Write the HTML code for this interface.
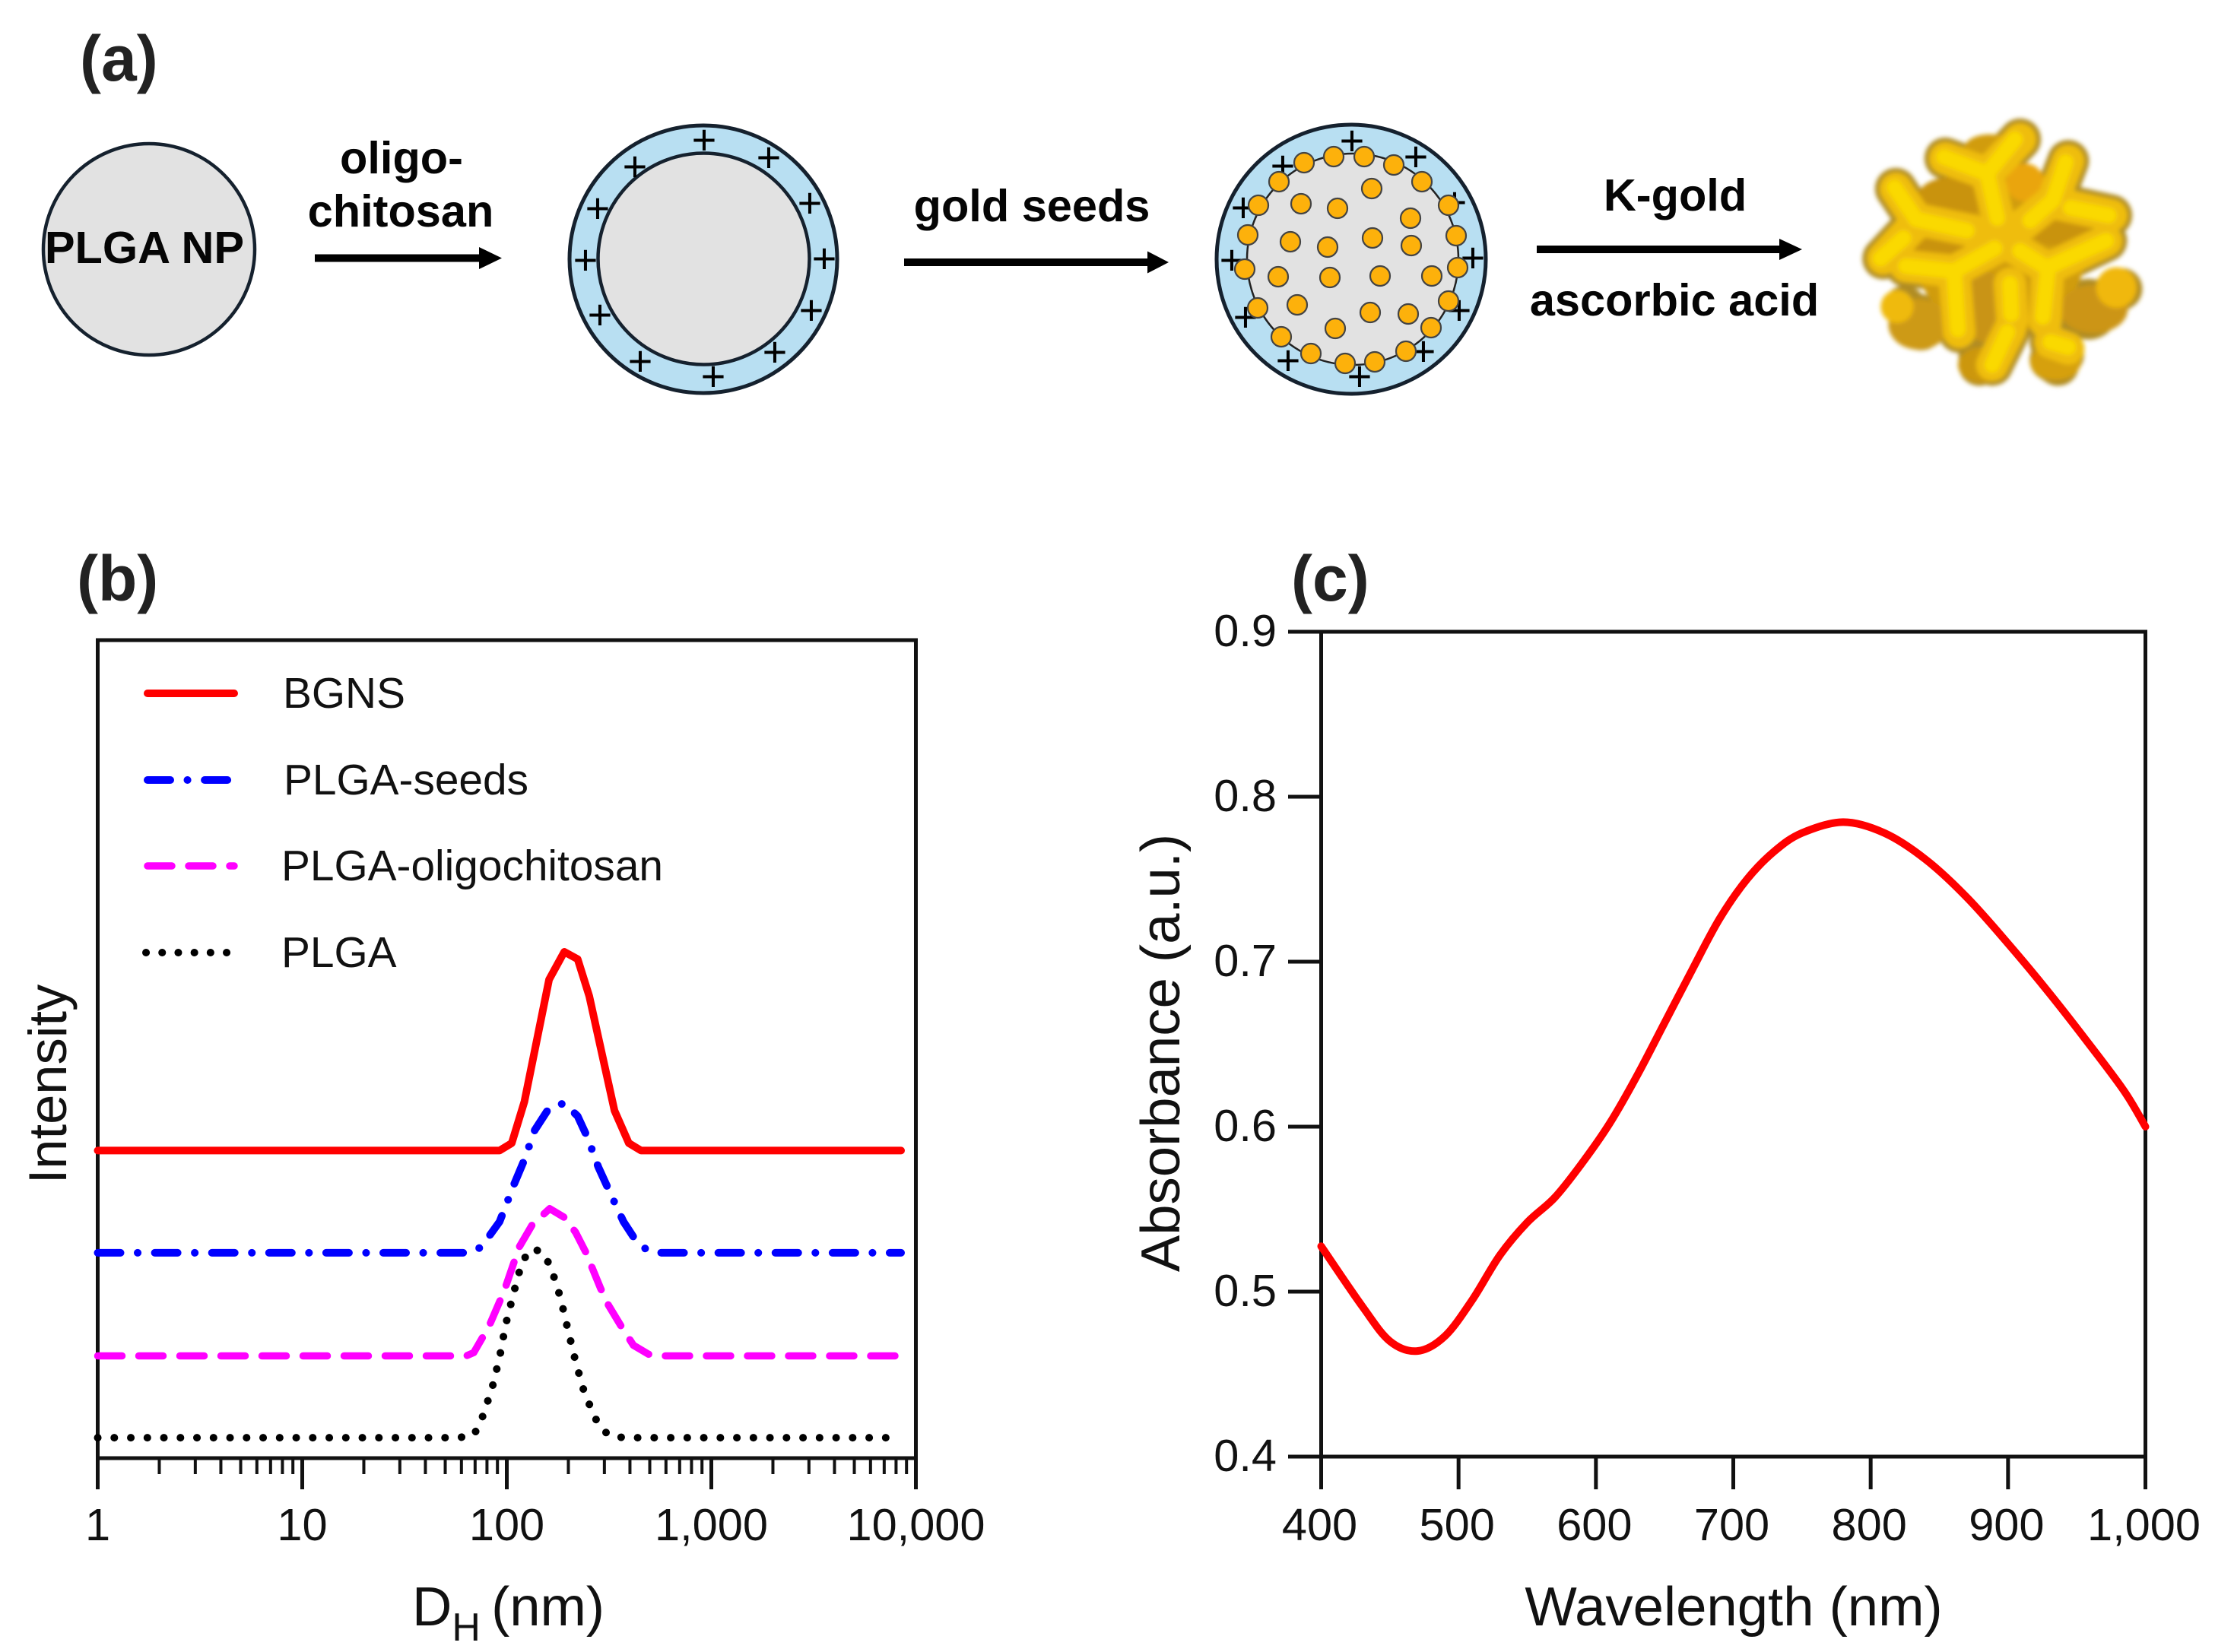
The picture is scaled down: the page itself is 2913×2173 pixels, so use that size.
<!DOCTYPE html>
<html lang="en">
<head>
<meta charset="utf-8">
<title>PLGA gold nanostar synthesis and characterisation</title>
<style>
html,body{margin:0;padding:0;background:#fff;width:2913px;height:2173px;overflow:hidden}
svg{display:block}
text{font-family:"Liberation Sans",Arial,sans-serif;fill:#111}
.tick{font-size:59.5px}
.title{font-size:72.5px}
.leg{font-size:56.8px}
.step{font-size:59.5px;font-weight:bold;fill:#050505}
.panel{font-size:84px;font-weight:bold;fill:#222}
.plus{font-size:56px;fill:#000;text-anchor:middle}
.seed{fill:#fdb10b;stroke:#444;stroke-width:2.2}
</style>
</head>
<body>
<svg id="fig" xmlns="http://www.w3.org/2000/svg" width="2913" height="2173" viewBox="0 0 2913 2173">
<defs>
<filter id="soft" x="-10%" y="-10%" width="120%" height="120%"><feGaussianBlur stdDeviation="9"/></filter>
</defs>
<rect width="2913" height="2173" fill="#fff"/>

<!-- PANEL A -->
<g>
<text class="panel" x="105" y="106">(a)</text>

<g>
<circle cx="196" cy="328" r="139" fill="#e2e2e2" stroke="#15212e" stroke-width="4.5"/>
<text class="step" x="190" y="346" text-anchor="middle">PLGA NP</text>
</g>

<text class="step" x="528" y="228" text-anchor="middle">oligo-</text>
<text class="step" x="527" y="298" text-anchor="middle">chitosan</text>
<path d="M414 334.500H630V325L660 339.500L630 354V344.500H414Z" fill="#000"/>

<g>
<circle cx="925" cy="341" r="176" fill="#b8dff2" stroke="#15212e" stroke-width="5"/>
<circle cx="925.500" cy="340.500" r="139" fill="#e2e2e2" stroke="#15212e" stroke-width="4.5"/>
<g>
<text class="plus" x="926" y="203">+</text>
<text class="plus" x="1011" y="226">+</text>
<text class="plus" x="1065" y="286">+</text>
<text class="plus" x="1084" y="359">+</text>
<text class="plus" x="1067" y="427">+</text>
<text class="plus" x="1019" y="482">+</text>
<text class="plus" x="938" y="514">+</text>
<text class="plus" x="842" y="494">+</text>
<text class="plus" x="789" y="433">+</text>
<text class="plus" x="770" y="361">+</text>
<text class="plus" x="786" y="293">+</text>
<text class="plus" x="835" y="238">+</text>
</g>
</g>

<text class="step" x="1357" y="291" text-anchor="middle">gold seeds</text>
<path d="M1189 340H1509V330.500L1537 345L1509 359.500V350H1189Z" fill="#000"/>

<g>
<circle cx="1777" cy="341" r="177" fill="#b8dff2" stroke="#15212e" stroke-width="5"/>
<circle cx="1779" cy="341" r="139" fill="#e2e2e2" stroke="#222" stroke-width="2.500"/>
<g>
<text class="plus" x="1778" y="204">+</text>
<text class="plus" x="1862" y="225">+</text>
<text class="plus" x="1913" y="285">+</text>
<text class="plus" x="1937" y="358">+</text>
<text class="plus" x="1919" y="427">+</text>
<text class="plus" x="1872" y="481">+</text>
<text class="plus" x="1788" y="514">+</text>
<text class="plus" x="1694" y="493">+</text>
<text class="plus" x="1638" y="436">+</text>
<text class="plus" x="1620" y="361">+</text>
<text class="plus" x="1635" y="292">+</text>
<text class="plus" x="1687" y="237">+</text>
</g>
<g>
<circle class="seed" cx="1754" cy="206" r="13"/>
<circle class="seed" cx="1794" cy="206" r="13"/>
<circle class="seed" cx="1833" cy="217" r="13"/>
<circle class="seed" cx="1870" cy="239" r="13"/>
<circle class="seed" cx="1905" cy="270" r="13"/>
<circle class="seed" cx="1915" cy="310" r="13"/>
<circle class="seed" cx="1917" cy="352" r="13"/>
<circle class="seed" cx="1905" cy="396" r="13"/>
<circle class="seed" cx="1882" cy="431" r="13"/>
<circle class="seed" cx="1849" cy="462" r="13"/>
<circle class="seed" cx="1808" cy="476" r="13"/>
<circle class="seed" cx="1769" cy="478" r="13"/>
<circle class="seed" cx="1724" cy="465" r="13"/>
<circle class="seed" cx="1685" cy="443" r="13"/>
<circle class="seed" cx="1654" cy="405" r="13"/>
<circle class="seed" cx="1637" cy="354" r="13"/>
<circle class="seed" cx="1641" cy="309" r="13"/>
<circle class="seed" cx="1655" cy="270" r="13"/>
<circle class="seed" cx="1682" cy="239" r="13"/>
<circle class="seed" cx="1715" cy="214" r="13"/>
<circle class="seed" cx="1804" cy="248" r="13"/>
<circle class="seed" cx="1711" cy="268" r="13"/>
<circle class="seed" cx="1759" cy="274" r="13"/>
<circle class="seed" cx="1855" cy="287" r="13"/>
<circle class="seed" cx="1697" cy="318" r="13"/>
<circle class="seed" cx="1746" cy="325" r="13"/>
<circle class="seed" cx="1805" cy="313" r="13"/>
<circle class="seed" cx="1856" cy="323" r="13"/>
<circle class="seed" cx="1681" cy="364" r="13"/>
<circle class="seed" cx="1749" cy="365" r="13"/>
<circle class="seed" cx="1815" cy="363" r="13"/>
<circle class="seed" cx="1883" cy="363" r="13"/>
<circle class="seed" cx="1706" cy="401" r="13"/>
<circle class="seed" cx="1802" cy="411" r="13"/>
<circle class="seed" cx="1852" cy="413" r="13"/>
<circle class="seed" cx="1756" cy="432" r="13"/>
</g>
</g>

<text class="step" x="2203" y="277" text-anchor="middle">K-gold</text>
<path d="M2021 323H2340V314L2370 328L2340 342V333H2021Z" fill="#000"/>
<text class="step" x="2202" y="415" text-anchor="middle">ascorbic acid</text>

<g transform="translate(2430 140) scale(0.3333)">
<g filter="url(#soft)" fill="none" stroke-linecap="round" stroke-linejoin="round">
<g stroke="#b08c22" stroke-width="165">
<path d="M680 130L550 265L600 470"/><path d="M385 205L550 265"/>
<path d="M870 215L810 370L700 460"/><path d="M1040 430L810 380"/>
<path d="M190 325L270 445L490 490"/><path d="M140 600L270 460"/>
<path d="M600 550L420 650L440 890"/><path d="M230 630L420 650"/>
<path d="M660 560L790 640L780 850"/><path d="M1020 530L790 640"/>
<path d="M640 880L570 1020"/><path d="M800 930L850 980"/>
<path d="M225 790L290 880"/><path d="M520 780L520 1020"/><path d="M950 800L1080 720"/><path d="M800 1000L830 1020"/>
<circle cx="600" cy="560" r="320" fill="#b08c22" stroke="none"/>
<circle cx="950" cy="800" r="120" fill="#b08c22" stroke="none"/>
<circle cx="280" cy="850" r="110" fill="#b08c22" stroke="none"/>
</g>
<g stroke="none">
<circle cx="600" cy="560" r="340" fill="#d09c10"/>
<ellipse cx="400" cy="370" rx="130" ry="90" fill="#c9930e"/>
<ellipse cx="560" cy="165" rx="100" ry="55" fill="#d19c10"/>
<circle cx="700" cy="300" r="75" fill="#eaa50c"/>
<ellipse cx="280" cy="860" rx="120" ry="100" fill="#cd9a14"/>
<circle cx="195" cy="790" r="65" fill="#efba0c"/>
<ellipse cx="540" cy="790" rx="95" ry="140" fill="#c99412"/>
<ellipse cx="970" cy="800" rx="135" ry="95" fill="#cc9512"/>
<circle cx="1060" cy="715" r="80" fill="#f0b80c"/>
<ellipse cx="530" cy="1020" rx="95" ry="70" fill="#cc9710"/>
<ellipse cx="820" cy="1010" rx="100" ry="70" fill="#d6a010"/>
<ellipse cx="840" cy="490" rx="120" ry="60" fill="#c9930e"/>
<ellipse cx="370" cy="560" rx="120" ry="45" fill="#c9930e"/>
</g>
<g stroke="#efbd0e" stroke-width="128">
<path d="M680 130L550 265L600 470"/><path d="M385 205L550 265"/>
<path d="M870 215L810 370L700 460"/><path d="M1040 430L810 380"/>
<path d="M190 325L270 445L490 490"/><path d="M140 600L270 460"/>
<path d="M600 550L420 650L440 890"/><path d="M230 630L420 650"/>
<path d="M660 560L790 640L780 850"/><path d="M1020 530L790 640"/>
<path d="M640 700L650 840"/><path d="M640 880L570 1020"/><path d="M800 930L870 955"/>
</g>
<g stroke="#fad906" stroke-width="62">
<path d="M660 130L550 265L590 440"/><path d="M380 200L550 265"/>
<path d="M860 220L810 370L720 450"/><path d="M1030 430L880 400"/>
<path d="M185 320L270 445L470 490"/><path d="M130 600L220 520"/>
<path d="M580 560L420 650L435 880"/><path d="M230 630L420 650"/>
<path d="M680 570L790 640L770 830"/><path d="M1020 530L800 630"/>
<path d="M640 700L645 820"/><path d="M630 890L570 1020"/><path d="M800 930L870 950"/>
</g>
</g>
</g>
</g>

<!-- PANEL B -->
<g id="panel-b">
<text class="panel" x="101" y="790">(b)</text>
<rect x="128.500" y="842" width="1076" height="1076" fill="none" stroke="#111" stroke-width="5"/>
<g id="ticks-b" stroke="#111"></g>
<g id="lines-b" fill="none" stroke-linejoin="round"></g>
<g>
<g>
<line x1="194" y1="912" x2="308" y2="912" stroke="#ff0000" stroke-width="10" stroke-linecap="round"/>
<text class="leg" x="372" y="931">BGNS</text>
</g>
<g>
<line x1="194" y1="1026" x2="308" y2="1026" stroke="#0000ff" stroke-width="10" stroke-linecap="round" stroke-dasharray="30 22.500 0.1 22.500"/>
<text class="leg" x="373" y="1045">PLGA-seeds</text>
</g>
<g>
<line x1="194" y1="1139" x2="308" y2="1139" stroke="#ff00ff" stroke-width="9.500" stroke-linecap="round" stroke-dasharray="32 22"/>
<text class="leg" x="370" y="1158">PLGA-oligochitosan</text>
</g>
<g>
<line x1="192" y1="1253" x2="299" y2="1253" stroke="#000" stroke-width="10" stroke-linecap="round" stroke-dasharray="0.1 21.100"/>
<text class="leg" x="370" y="1272">PLGA</text>
</g>
</g>
<text class="title" style="font-size:70.500px" transform="translate(87 1426) rotate(-90)" text-anchor="middle">Intensity</text>
<text class="title" x="542" y="2138">D<tspan font-size="52" dy="20">H</tspan><tspan dy="-20" dx="-6"> (nm)</tspan></text>
</g>

<!-- PANEL C -->
<g id="panel-c">
<text class="panel" x="1698" y="790">(c)</text>
<rect x="1737.500" y="831" width="1084" height="1085" fill="none" stroke="#111" stroke-width="5"/>
<g id="ticks-c" stroke="#111"></g>
<g id="lines-c" fill="none"></g>
<text class="title" transform="translate(1551 1385) rotate(-90)" text-anchor="middle">Absorbance (a.u.)</text>
<text class="title" x="2280" y="2138" text-anchor="middle">Wavelength (nm)</text>
</g>
</svg>

<script>
// Panel (b) data: hydrodynamic diameter (nm) and relative intensity (0-100 scale)
const bgnsD = [1, 92.2, 105.7, 122, 161, 191, 222, 253, 336, 395, 453, 8465];
const bgnsI = [37.6, 37.6, 38.5, 43.6, 58.5, 61.9, 61, 56.5, 42.5, 38.5, 37.6, 37.6];
const seedsD = [1, 65.5, 75, 92.2, 109, 122, 137, 161, 191, 222, 249, 280, 319, 372, 430, 493, 571, 8465];
const seedsI = [25.1, 25.1, 25.8, 28.9, 33.6, 36.5, 40.1, 42.8, 43.4, 41.8, 39.1, 35.6, 32.5, 28.9, 26.5, 25.3, 25.1, 25.1];
const chitoD = [1, 63.3, 68.9, 81.8, 97, 115, 133, 162, 192, 217, 243, 288, 314, 363, 416, 493, 556, 8035];
const chitoI = [12.5, 12.5, 12.9, 16.1, 20.4, 25.8, 28.5, 30.5, 29.4, 27.6, 25.2, 20.7, 18.7, 16.1, 13.8, 12.7, 12.5, 12.5];
const plgaD = [1, 58, 68.9, 75, 84.6, 92.2, 98.7, 108, 119, 133, 149, 164, 183, 199, 217, 240, 278, 314, 372, 8000];
const plgaI = [2.5, 2.5, 2.8, 4.6, 8.5, 12.3, 16.3, 20.2, 24.1, 25.6, 25.2, 23.4, 19.6, 15.7, 11.8, 7.9, 4.3, 2.8, 2.5, 2.5];
const sizeMajorTicks = [1, 10, 100, 1000, 10000];
const sizeMajorLabels = ["1", "10", "100", "1,000", "10,000"];
const sizeMinorMultiples = [2, 3, 4, 5, 6, 7, 8, 9];

// Panel (c) data: wavelength (nm) and absorbance (a.u.)
const wavelength = [400, 430, 450, 470, 490, 510, 530, 550, 570, 590, 610, 630, 650, 670, 690, 710, 730, 750, 780, 810, 840, 870, 900, 930, 960, 985, 1000];
const absorbance = [0.5275, 0.491, 0.47, 0.464, 0.473, 0.495, 0.522, 0.542, 0.557, 0.578, 0.602, 0.631, 0.663, 0.695, 0.726, 0.75, 0.767, 0.778, 0.7846, 0.778, 0.762, 0.739, 0.711, 0.681, 0.649, 0.621, 0.6];
const wavelengthTicks = [400, 500, 600, 700, 800, 900, 1000];
const wavelengthLabels = ["400", "500", "600", "700", "800", "900", "1,000"];
const absorbanceTicks = [0.4, 0.5, 0.6, 0.7, 0.8, 0.9];
const absorbanceLabels = ["0.4", "0.5", "0.6", "0.7", "0.8", "0.9"];

const SVGNS = "http://www.w3.org/2000/svg";
function make(tag, parent) {
  const node = document.createElementNS(SVGNS, tag);
  parent.appendChild(node);
  return node;
}

// Axis functions
function xB(d) { return 128.5 + 269 * Math.log10(d); }
function yB(v) { return 1918 - 10.76 * v; }
function xC(w) { return 1737.5 + (w - 400) * 1084 / 600; }
function yC(a) { return 1916 - (a - 0.4) * 1085 / 0.5; }

function tickLine(parent, x1, y1, x2, y2, width) {
  const el = make("line", parent);
  el.setAttribute("x1", x1);
  el.setAttribute("y1", y1);
  el.setAttribute("x2", x2);
  el.setAttribute("y2", y2);
  el.setAttribute("stroke-width", width);
  return el;
}
function tickLabel(parent, x, y, anchor, str) {
  const el = make("text", parent);
  el.setAttribute("class", "tick");
  el.setAttribute("x", x);
  el.setAttribute("y", y);
  el.setAttribute("text-anchor", anchor);
  el.setAttribute("stroke", "none");
  el.textContent = str;
  return el;
}

// Panel (b) ticks
const ticksB = document.getElementById("ticks-b");
sizeMajorTicks.forEach(function (t, i) {
  const major = tickLine(ticksB, xB(t), 1918, xB(t), 1959, 5);
  
  
  const label = tickLabel(ticksB, xB(t), 2026, "middle", sizeMajorLabels[i]);
  
  
  if (i < sizeMajorTicks.length - 1) {
    sizeMinorMultiples.forEach(function (m) {
      const minor = tickLine(ticksB, xB(t * m), 1918, xB(t * m), 1939, 4);
      
      
    });
  }
});

// Panel (b) series
const linesB = document.getElementById("lines-b");
function drawSizeSeries(xs, ys, color, width, dash) {
  const el = make("polyline", linesB);
  el.setAttribute("points", xs.map(function (d, i) { return xB(d).toFixed(1) + "," + yB(ys[i]).toFixed(1); }).join(" "));
  el.setAttribute("stroke", color);
  el.setAttribute("stroke-width", width);
  el.setAttribute("stroke-linecap", "round");
  if (dash) { el.setAttribute("stroke-dasharray", dash); }
  return el;
}
const plgaLine = drawSizeSeries(plgaD, plgaI, "#000000", 10, "0.1 21.65");


const chitoLine = drawSizeSeries(chitoD, chitoI, "#ff00ff", 9.5, "32 22");


const seedsLine = drawSizeSeries(seedsD, seedsI, "#0000ff", 10, "30 22.5 0.1 22.5");


const bgnsLine = drawSizeSeries(bgnsD, bgnsI, "#ff0000", 10, null);



// Panel (c) ticks
const ticksC = document.getElementById("ticks-c");
wavelengthTicks.forEach(function (t, i) {
  const tick = tickLine(ticksC, xC(t), 1916, xC(t), 1959, 5);
  
  
  const label = tickLabel(ticksC, xC(t) - 2, 2026, "middle", wavelengthLabels[i]);
  
  
});
absorbanceTicks.forEach(function (t, i) {
  const tick = tickLine(ticksC, 1694, yC(t), 1737.5, yC(t), 5);
  
  
  const label = tickLabel(ticksC, 1679, yC(t) + 19, "end", absorbanceLabels[i]);
  
  
});

// Panel (c) curve (Catmull-Rom smoothing through the data)
function smoothPath(px, py) {
  let d = "M" + px[0].toFixed(1) + " " + py[0].toFixed(1);
  for (let i = 0; i < px.length - 1; i++) {
    const a = Math.max(i - 1, 0), b = Math.min(i + 2, px.length - 1);
    const c1x = px[i] + (px[i + 1] - px[a]) / 6, c1y = py[i] + (py[i + 1] - py[a]) / 6;
    const c2x = px[i + 1] - (px[b] - px[i]) / 6, c2y = py[i + 1] - (py[b] - py[i]) / 6;
    d += "C" + c1x.toFixed(1) + " " + c1y.toFixed(1) + " " + c2x.toFixed(1) + " " + c2y.toFixed(1) + " " + px[i + 1].toFixed(1) + " " + py[i + 1].toFixed(1);
  }
  return d;
}
const absLine = make("path", document.getElementById("lines-c"));
absLine.setAttribute("d", smoothPath(wavelength.map(xC), absorbance.map(yC)));
absLine.setAttribute("stroke", "#ff0000");
absLine.setAttribute("stroke-width", 10);
absLine.setAttribute("stroke-linecap", "round");
absLine.setAttribute("stroke-linejoin", "round");


</script>
</body>
</html>
